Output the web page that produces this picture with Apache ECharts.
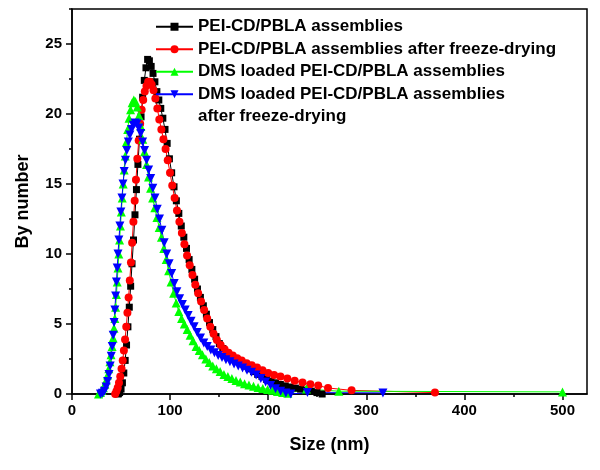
<!DOCTYPE html>
<html>
<head>
<meta charset="utf-8">
<script src="https://cdn.jsdelivr.net/npm/echarts@6/dist/echarts.min.js"></script>
<style>html,body{margin:0;padding:0;background:#fff;}#c{width:600px;height:470px;}</style>
</head>
<body>
<div id="c"></div>
<script>
// ---- data ----
const seriesNames = [
  'PEI-CD/PBLA assemblies',
  'PEI-CD/PBLA assemblies after freeze-drying',
  'DMS loaded PEI-CD/PBLA assemblies',
  'DMS loaded PEI-CD/PBLA assemblies\nafter freeze-drying'
];
const xTicks = [0, 100, 200, 300, 400, 500];
const xMinorTicks = [50, 150, 250, 350, 450];
const yTicks = [0, 5, 10, 15, 20, 25];
const yMinorTicks = [2.5, 7.5, 12.5, 17.5, 22.5, 27.5];

const blackX = [47,48.5,50,51.4,52.8,54.2,55.6,57,58.4,59.8,61.2,62.7,64.2,65.7,67.2,68.8,70.4,72,73.7,75.4,77.1,78.9,80.7,82.6,84.5,86.5,88.5,90.5,92.6,94.8,97,99.3,101.6,104,106.4,108.9,111.4,114,116.7,119.4,122.2,125,127.9,130.9,133.9,137,140.2,143.5,146.8,150.2,153.7,157.3,161,164.8,168.7,172.6,176.6,180.7,185,189.3,193.7,198.2,202.8,207.5,212.4,217.4,222.5,227.7,233,238.4,244,249.7,255];
const blackY = [0,0.1,0.35,0.8,1.5,2.4,3.5,4.8,6.2,7.7,9.3,11.0,12.8,14.6,16.4,18.2,19.8,21.2,22.4,23.3,23.9,23.8,23.4,22.9,22.3,21.6,21.0,20.4,19.7,18.9,17.9,16.8,15.8,14.8,13.8,12.9,12.0,11.2,10.4,9.6,8.9,8.2,7.5,6.9,6.3,5.7,5.1,4.6,4.1,3.6,3.25,2.95,2.7,2.5,2.4,2.2,2.0,1.8,1.6,1.4,1.25,1.05,0.92,0.8,0.68,0.58,0.5,0.42,0.35,0.28,0.2,0.1,0];

const redX = [44,45.3,46.6,47.9,49.2,50.5,51.7,52.9,54.1,55.3,56.5,57.7,58.9,60.1,61.3,62.6,63.9,65.2,66.6,68,69.5,71,72.6,74.2,75.9,77.6,79.4,81.2,83.1,85,87,89,91.1,93.2,95.4,97.6,99.9,102.2,104.6,107,109.5,112,114.6,117.3,120,122.8,125.7,128.6,131.6,134.7,137.8,141,144.3,147.7,151.5,155.5,159.6,163.9,168.4,173,178,183.2,188.6,194.2,200,206,212.5,219.5,227,235,243,251,261,285,370];
const redY = [0,0.2,0.45,0.8,1.25,1.8,2.4,3.1,3.9,4.8,5.8,6.9,8.1,9.4,10.8,12.3,13.8,15.3,16.8,18.1,19.3,20.3,21.0,21.6,22.0,22.3,22.3,22.1,21.7,21.1,20.4,19.6,18.9,18.2,17.5,16.7,15.8,14.9,14.0,13.1,12.3,11.5,10.7,9.9,9.2,8.5,7.8,7.2,6.6,6.0,5.4,4.8,4.3,3.85,3.5,3.2,2.95,2.75,2.55,2.4,2.2,2.05,1.9,1.7,1.5,1.35,1.25,1.1,0.95,0.82,0.7,0.6,0.43,0.26,0.1];

const greenX = [27,29,30.5,32,33.5,35,36.3,37.5,38.7,39.8,40.9,41.9,42.8,43.7,44.5,45.3,46.1,46.9,47.7,48.5,49.4,50.3,51.2,52.2,53.2,54.3,55.5,56.8,58.2,59.7,61.3,63,64.7,66.5,68.3,70.2,72.1,74,76,78,80.1,82.2,84.4,86.6,88.9,91.2,93.6,96,98.5,101,103.6,106.2,108.9,111.7,114.5,117.4,120.4,123.4,126.5,129.7,133,136.4,139.9,143.5,147.2,151,154.9,158.9,163,167.2,171.5,175.9,180.4,185,189.7,194.5,199.4,204.4,209.5,214.7,220,239,272,500];
const greenY = [0,0.1,0.25,0.45,0.7,1.0,1.35,1.8,2.3,2.8,3.4,4.0,4.7,5.4,6.2,7.1,8.0,9.0,10.0,11.0,12.0,13.0,14.0,15.0,16.0,17.0,18.0,18.9,19.7,20.3,20.8,21.0,20.9,20.5,19.9,19.1,18.2,17.3,16.4,15.5,14.7,14.0,13.3,12.6,11.9,11.2,10.4,9.6,8.8,8.0,7.2,6.5,5.9,5.4,5.0,4.6,4.2,3.8,3.4,3.1,2.8,2.5,2.25,2.0,1.8,1.6,1.4,1.25,1.1,0.97,0.85,0.74,0.64,0.55,0.47,0.4,0.33,0.26,0.18,0.1,0.05,0.35,0.2,0.15];

const blueX = [29,31,33,34.8,36.3,37.7,38.9,40,41,42,42.9,43.7,44.5,45.3,46.1,46.9,47.8,48.8,49.8,50.9,52,53.2,54.5,55.9,57.4,59,60.7,62.5,64.3,66.2,68.1,70,72,74,76,78.1,80.2,82.4,84.6,86.9,89.2,91.6,94,96.5,99,101.6,104.2,106.9,109.7,112.5,115.4,118.4,121.4,124.5,127.7,131,134.4,137.9,141.5,145.2,149,152.9,156.9,161,165.2,169.5,173.9,178.4,183,187.7,192.5,197.4,202.4,207.5,212.7,218,223,240,317];
const blueY = [0,0.05,0.2,0.5,0.9,1.4,2.0,2.7,3.4,4.2,5.1,6.0,7.0,8.0,9.0,10.0,11.0,12.0,13.0,14.0,15.0,15.9,16.7,17.4,18.0,18.5,18.9,19.2,19.35,19.3,19.0,18.6,18.0,17.4,16.7,16.0,15.4,14.7,14.0,13.2,12.5,11.7,10.8,10.0,9.3,8.6,7.9,7.3,6.8,6.4,6.0,5.6,5.2,4.8,4.4,4.0,3.65,3.4,3.15,2.95,2.75,2.6,2.45,2.3,2.15,2.0,1.85,1.7,1.55,1.35,1.1,0.85,0.6,0.38,0.2,0.08,0,0.1,0.08];

// ---- chart ----
const zip = (xs, ys) => xs.map((x, i) => [x, ys[i]]);
const FONT = '"Liberation Sans", Arial, Helvetica, sans-serif';
const chart = echarts.init(document.getElementById('c'), null, {renderer: 'canvas'});

function mkSeries(name, data, color, symbol, size, rotate) {
  return {
    type: 'line', name: name, data: data,
    xAxisIndex: 0, yAxisIndex: 0,
    symbol: symbol, symbolSize: size, symbolRotate: rotate || 0,
    showSymbol: true,
    itemStyle: {color: color, borderWidth: 0},
    lineStyle: {color: color, width: 1},
    emphasis: {disabled: true},
    animation: false
  };
}

const legendText = {fontFamily: FONT, fontWeight: 'bold', fontSize: 17, color: '#000', lineHeight: 22.5};

chart.setOption({
  backgroundColor: '#fff',
  animation: false,
  grid: {left: 72, right: 13, top: 9, bottom: 76, show: true, borderColor: '#000', borderWidth: 1.5, backgroundColor: 'transparent'},
  legend: [
    {orient: 'vertical', left: 155, top: 15.5, padding: 0, itemGap: 0, itemWidth: 37, itemHeight: 10,
     selectedMode: false, textStyle: legendText, data: seriesNames.slice(0, 3)},
    {orient: 'vertical', left: 155, top: 60.5, padding: 0, itemGap: 0, itemWidth: 37, itemHeight: 10,
     selectedMode: false, textStyle: legendText, data: seriesNames.slice(3),
     formatter: function (n) { return ' \n' + n; }}
  ],
  xAxis: [
    {type: 'value', min: 0, max: 525, position: 'bottom',
     name: 'Size (nm)', nameLocation: 'middle', nameGap: 42,
     nameTextStyle: {fontFamily: FONT, fontWeight: 'bold', fontSize: 18, color: '#000'},
     axisLine: {show: true, lineStyle: {color: '#000', width: 1.5}},
     axisTick: {show: true, length: 6, customValues: xTicks, lineStyle: {color: '#000', width: 1.5}},
     axisLabel: {customValues: xTicks, margin: 9, fontFamily: FONT, fontWeight: 'bold', fontSize: 15, color: '#000'},
     splitLine: {show: false}},
    {type: 'value', min: 0, max: 525, position: 'bottom',
     axisLine: {show: false},
     axisTick: {show: true, length: 3, customValues: xMinorTicks, lineStyle: {color: '#000', width: 1.5}},
     axisLabel: {show: false}, splitLine: {show: false}}
  ],
  yAxis: [
    {type: 'value', min: 0, max: 27.5, position: 'left',
     name: 'By number', nameLocation: 'middle', nameGap: 40,
     nameTextStyle: {fontFamily: FONT, fontWeight: 'bold', fontSize: 18, color: '#000'},
     axisLine: {show: true, lineStyle: {color: '#000', width: 1.5}},
     axisTick: {show: true, length: 6, customValues: yTicks, lineStyle: {color: '#000', width: 1.5}},
     axisLabel: {customValues: yTicks, margin: 10, fontFamily: FONT, fontWeight: 'bold', fontSize: 15, color: '#000'},
     splitLine: {show: false}},
    {type: 'value', min: 0, max: 27.5, position: 'left',
     axisLine: {show: false},
     axisTick: {show: true, length: 3, customValues: yMinorTicks, lineStyle: {color: '#000', width: 1.5}},
     axisLabel: {show: false}, splitLine: {show: false}}
  ],
  series: [
    mkSeries(seriesNames[0], zip(blackX, blackY), '#000000', 'rect', 7),
    mkSeries(seriesNames[1], zip(redX, redY), '#ff0000', 'circle', 8),
    mkSeries(seriesNames[2], zip(greenX, greenY), '#00ff00', 'triangle', 9),
    mkSeries(seriesNames[3], zip(blueX, blueY), '#0000ff', 'triangle', 9, 180)
  ]
});
</script>
</body>
</html>
